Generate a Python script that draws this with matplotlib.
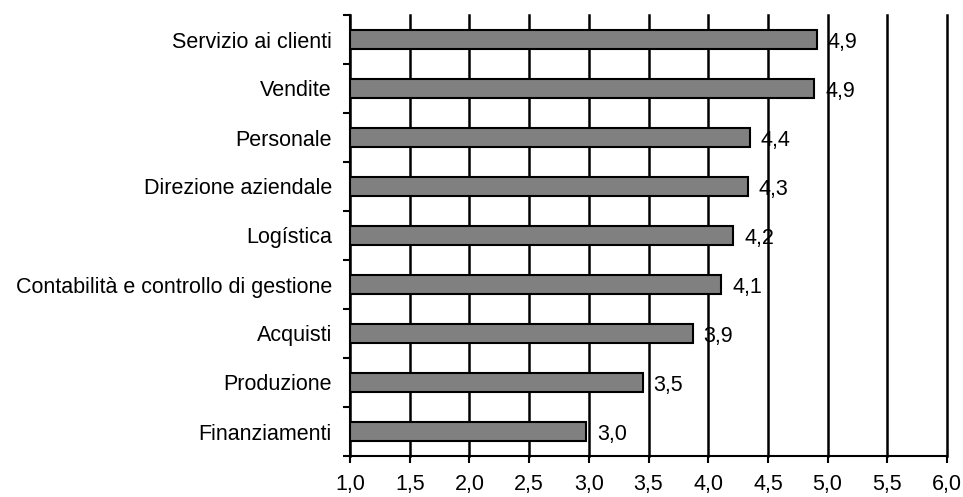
import numpy as np
import matplotlib.pyplot as plt
from matplotlib.ticker import FixedLocator

categories = ['Servizio ai clienti', 'Vendite', 'Personale', 'Direzione aziendale',
              'Logística', 'Contabilità e controllo di gestione', 'Acquisti',
              'Produzione', 'Finanziamenti']
values = [4.91, 4.89, 4.35, 4.33, 4.21, 4.11, 3.87, 3.45, 2.98]
labels = ['4,9', '4,9', '4,4', '4,3', '4,2', '4,1', '3,9', '3,5', '3,0']
xticks = [1.0, 1.5, 2.0, 2.5, 3.0, 3.5, 4.0, 4.5, 5.0, 5.5, 6.0]

plt.rcParams['font.family'] = ['Liberation Sans', 'DejaVu Sans']
fs = 15.5

fig = plt.figure(figsize=(9.63, 4.97), dpi=100)
ax = fig.add_axes([350 / 963, 1 - 456 / 497, 597 / 963, 441 / 497])

y = np.arange(len(categories))
base = 1.0
ax.barh(y, np.array(values) - base, left=base, height=0.38,
        color='#808080', edgecolor='black', linewidth=1.5, zorder=3)

for yi, v, lab in zip(y, values, labels):
    ax.text(v + 0.09, yi + 0.07, lab, va='center', ha='left', fontsize=fs, zorder=4)

ax.set_xlim(1.0, 6.0)
ax.set_ylim(len(categories) - 0.5, -0.5)

ax.set_xticks(xticks)
ax.set_xticklabels([f'{t:.1f}'.replace('.', ',') for t in xticks], fontsize=fs)
ax.set_yticks(y)
ax.set_yticklabels(categories, fontsize=fs)
ax.yaxis.set_minor_locator(FixedLocator(np.arange(-0.5, len(categories), 1.0)))
ax.tick_params(axis='y', which='major', length=0, pad=13)
ax.tick_params(axis='y', which='minor', length=5, width=1.5, direction='out')
ax.tick_params(axis='x', length=5, width=1.5, direction='out', pad=8)

ax.grid(axis='x', color='black', linewidth=1.8, zorder=1)
for line in ax.get_xgridlines():
    line.set_clip_on(False)
for s in ['top', 'right']:
    ax.spines[s].set_visible(False)
for s in ['left', 'bottom']:
    ax.spines[s].set_linewidth(1.5)

fig.savefig('out.png', dpi=100)
